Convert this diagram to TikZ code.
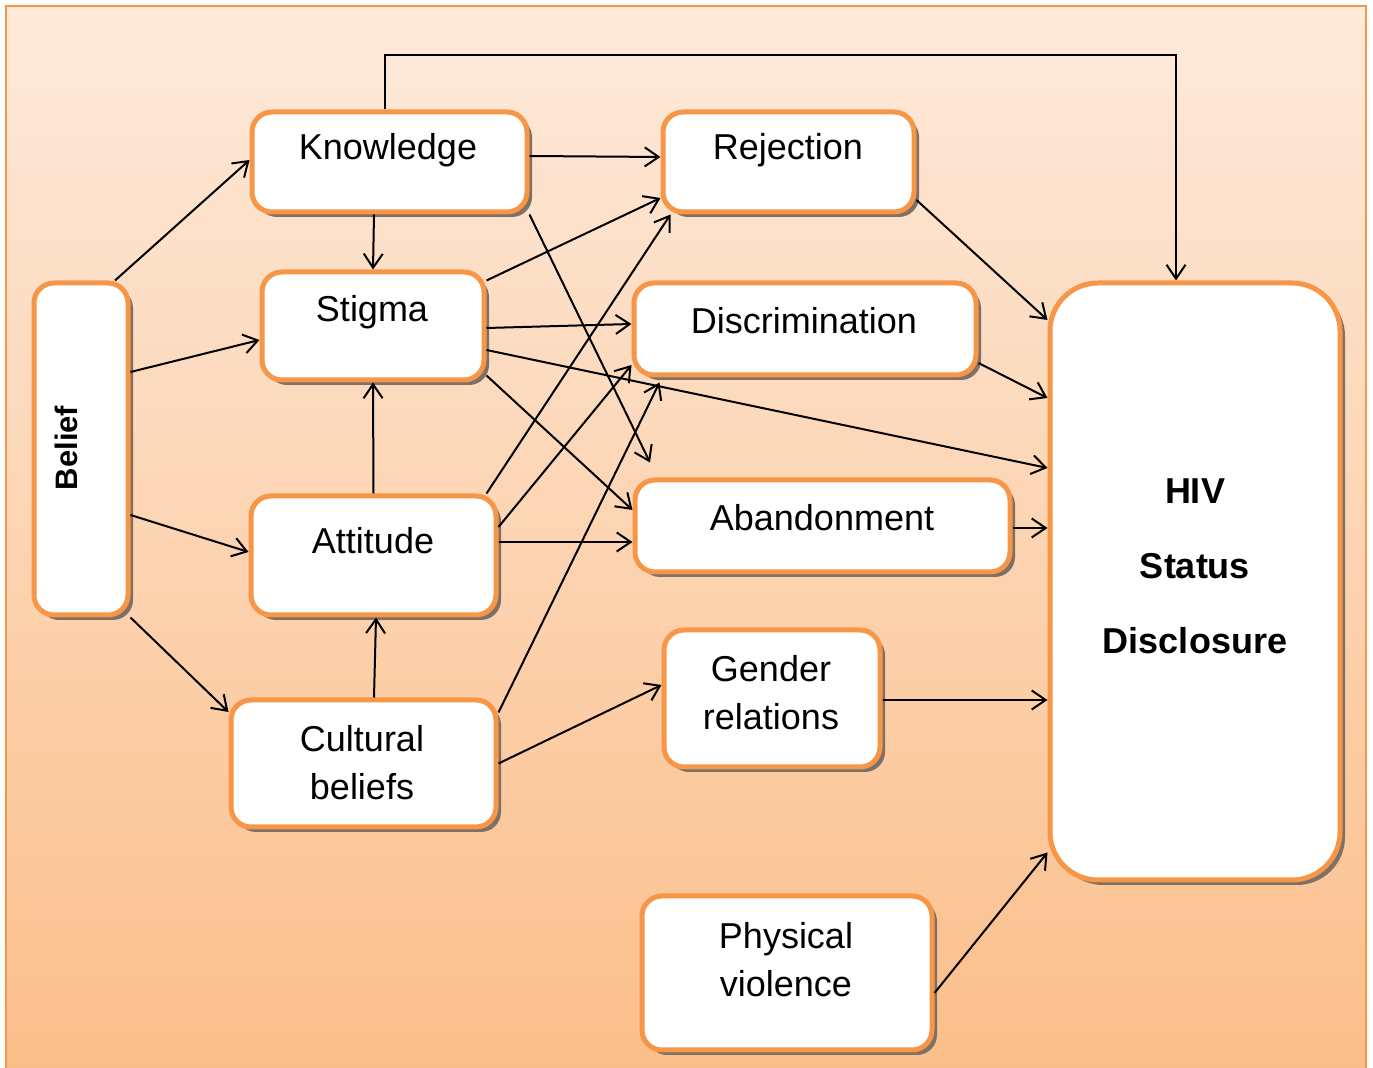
\documentclass[tikz,border=0pt]{standalone}
\usepackage{fontspec}
\setmainfont{Liberation Sans}
\usetikzlibrary{arrows.meta,shadows}
\definecolor{boxorange}{HTML}{F79646}
\definecolor{bgtop}{HTML}{FDEADB}
\definecolor{bgbot}{HTML}{FBBE8A}
\definecolor{shadowgrey}{RGB}{125,112,102}
\tikzset{
  cbox/.style={draw=boxorange, line width=2.5pt, fill=white, rounded corners=10pt,
    inner sep=0pt, drop shadow={shadow xshift=2.5pt, shadow yshift=-2.5pt, fill=shadowgrey, opacity=1}},
  lbl/.style={font=\fontsize{18}{24}\selectfont, align=center, inner sep=0pt},
  arr/.style={draw=black, line width=1pt, -{Straight Barb[length=7pt,width=9.5pt]}},
}
\begin{document}
\begin{tikzpicture}[x=0.5pt,y=-0.5pt]
\useasboundingbox (0,0) rectangle (1373,1068);
\shade[top color=bgtop, bottom color=bgbot] (6,6) rectangle (1366,1075);
\draw[boxorange, line width=1pt] (6,1075) -- (6,6) -- (1366,6) -- (1366,1075);

% boxes
\node[cbox, minimum width=137.5pt, minimum height=50pt] (k) at (389.5,162) {};
\node[cbox, minimum width=125.5pt, minimum height=50pt] (rej) at (788.5,162) {};
\node[cbox, minimum width=111pt, minimum height=54pt] (st) at (373,326) {};
\node[cbox, minimum width=171pt, minimum height=46pt] (dis) at (805,329) {};
\node[cbox, minimum width=47pt, minimum height=166pt] (bel) at (81,449) {};
\node[cbox, minimum width=122.5pt, minimum height=59.5pt] (att) at (373.5,555.5) {};
\node[cbox, minimum width=187.5pt, minimum height=46pt] (ab) at (822.5,526) {};
\node[cbox, minimum width=108pt, minimum height=68.5pt] (gen) at (772,698.5) {};
\node[cbox, minimum width=132.5pt, minimum height=63.5pt] (cul) at (363.5,763.5) {};
\node[cbox, rounded corners=24pt, minimum width=145pt, minimum height=298.5pt] (hiv) at (1195,581.5) {};
\node[cbox, minimum width=145pt, minimum height=77pt] (pv) at (787,973) {};

% labels
\node[lbl] (kt) at (388,150) {Knowledge};
\node[lbl] (rejt) at (788,150) {Rejection};
\node[lbl] (stt) at (372,312) {Stigma};
\node[lbl] (dist) at (804,321) {Discrimination};
\node[lbl, font=\bfseries\fontsize{15.5}{18}\selectfont, rotate=90] (belt) at (66,448) {Belief};
\node[lbl] (attt) at (373,541) {Attitude};
\node[lbl] (abt) at (822,518) {Abandonment};
\node[lbl] (gent) at (771,693) {Gender\\relations};
\node[lbl] (cult) at (362,763) {Cultural\\beliefs};
\node[lbl] (pvt) at (786,960) {Physical\\violence};
\node[lbl, font=\bfseries\fontsize{18}{37.5}\selectfont] (hivt) at (1195,566) {HIV\\Status\\Disclosure};

% connectors
\draw[arr] ([xshift=17pt]bel.north) -- ([yshift=1pt]k.west);
\draw[arr] ([yshift=38.5pt]bel.east) -- ([yshift=-7pt]st.west);
\draw[arr] ([yshift=-33pt]bel.east) -- ([yshift=1.75pt]att.west);
\draw[arr] (bel.south east) -- ([yshift=25.75pt]cul.west);
\draw[arr] ([yshift=3pt]k.east) -- ([yshift=2.5pt]rej.west);
\draw[arr] ([xshift=-7.75pt]k.south) -- (st.north);
\draw[arr] ([xshift=-2.25pt]k.north) -- ++(0,-54) -| ([xshift=-9.5pt]hiv.north);
\draw[arr] (k.south east) -- ([xshift=-86.25pt,yshift=7.5pt]ab.north);
\draw[arr] ([yshift=-5.5pt]st.north east) -- ([yshift=-18pt]rej.west);
\draw[arr] ([yshift=-1pt]st.east) -- ([yshift=2.5pt]dis.west);
\draw[arr] ([yshift=-12pt]st.east) -- ([yshift=56.75pt]hiv.west);
\draw[arr] ([yshift=3.5pt]st.south east) -- ([yshift=8pt]ab.west);
\draw[arr] (att.north) -- (st.south);
\draw[arr] ([xshift=-6pt]att.north east) -- ([xshift=5pt]rej.south west);
\draw[arr] ([yshift=14.25pt]att.east) -- ([yshift=-18pt]dis.west);
\draw[arr] ([yshift=6.75pt]att.east) -- ([yshift=-8pt]ab.west);
\draw[arr] ([xshift=5.25pt]cul.north) -- ([xshift=1.25pt]att.south);
\draw[arr] ([yshift=-7.5pt]cul.north east) -- ([xshift=14pt,yshift=-2.5pt]dis.south west);
\draw[arr] (cul.east) -- ([yshift=6.75pt]gen.west);
\draw[arr] ([yshift=-19pt]rej.east) -- ([yshift=130.75pt]hiv.west);
\draw[arr] ([yshift=-17pt]dis.east) -- ([yshift=91.75pt]hiv.west);
\draw[arr] ([yshift=-1pt]ab.east) -- ([yshift=26.75pt]hiv.west);
\draw[arr] ([yshift=-0.75pt]gen.east) -- ([yshift=-59.25pt]hiv.west);
\draw[arr] ([yshift=-10pt]pv.east) -- ([yshift=15pt]hiv.south west);
\end{tikzpicture}
\end{document}
